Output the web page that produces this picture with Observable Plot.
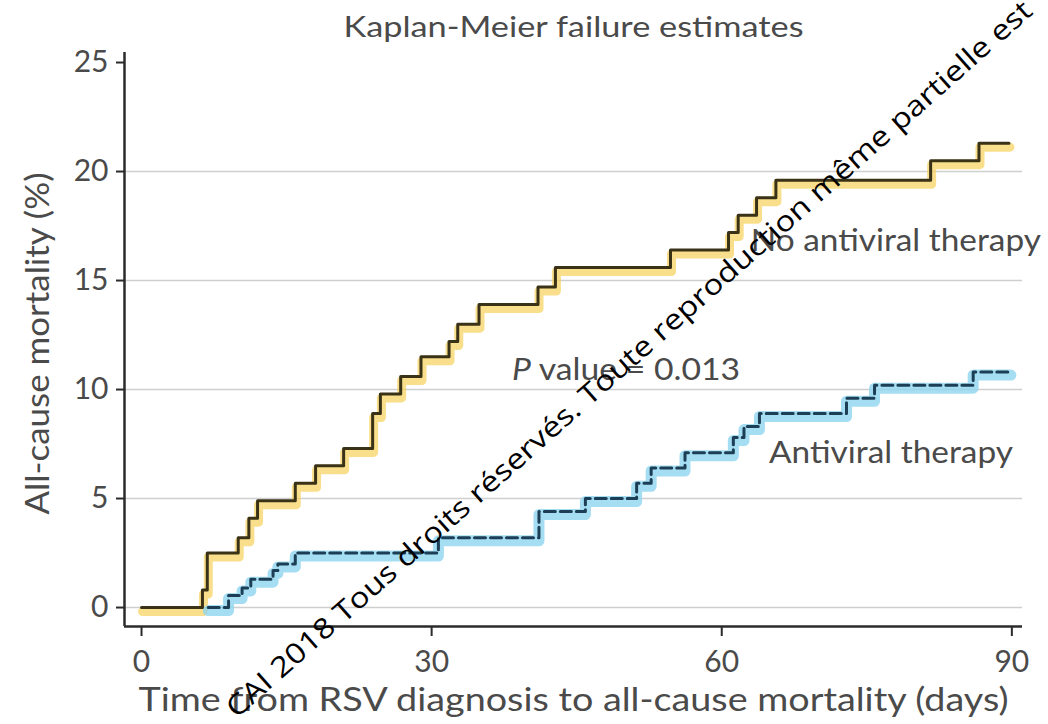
<!DOCTYPE html>
<html><head><meta charset="utf-8">
<script src="https://cdn.jsdelivr.net/npm/d3@7"></script>
<script src="https://cdn.jsdelivr.net/npm/@observablehq/plot@0.6"></script>
<style>body{margin:0;background:#fff;}</style>
</head><body><div id="chart"></div>
<script>
// Kaplan-Meier step curves (day, cumulative mortality %)
const noAntiviralDay = [0, 6.3, 6.8, 10.0, 11.1, 12.0, 15.9, 18.0, 20.9, 23.9, 24.7, 26.8, 28.9, 31.8, 32.7, 34.9, 41.0, 42.8, 54.7, 60.7, 61.7, 63.6, 65.6, 81.6, 86.6, 89.7];
const noAntiviralPct = [0, 0.8, 2.5, 3.2, 4.1, 4.9, 5.7, 6.5, 7.3, 8.9, 9.8, 10.6, 11.5, 12.2, 13.0, 13.9, 14.7, 15.6, 16.4, 17.2, 18.0, 18.8, 19.6, 20.5, 21.3, 21.3];
const antiviralDay = [6.9, 9.0, 10.4, 11.3, 13.6, 14.1, 15.9, 30.7, 41.1, 45.9, 51.2, 52.7, 56.2, 61.2, 62.3, 63.9, 72.9, 75.8, 86.0, 89.9];
const antiviralPct = [0, 0.55, 0.9, 1.3, 1.7, 2.0, 2.5, 3.2, 4.4, 5.0, 5.7, 6.4, 7.1, 7.8, 8.3, 8.9, 9.6, 10.2, 10.8, 10.8];
const yTicks = [0, 5, 10, 15, 20, 25];
const xTicks = [0, 30, 60, 90];
const gridValues = [0, 5, 10, 15, 20];
const titleText = "Kaplan-Meier failure estimates";
const xLabel = "Time from RSV diagnosis to all-cause mortality (days)";
const yLabel = "All-cause mortality (%)";
const groupLabels = ["No antiviral therapy", "Antiviral therapy"];
const pValueText = "P value = 0.013";
const watermark = "CAI 2018 Tous droits réservés. Toute reproduction même partielle est";

const noAV = noAntiviralDay.map((d, i) => ({day: d, pct: noAntiviralPct[i]}));
const av = antiviralDay.map((d, i) => ({day: d, pct: antiviralPct[i]}));

const FONT = "Lato, 'Open Sans', sans-serif";
const GRAY = "#4a4a4a";
const X0 = -1.76, X1 = 91.1, Y0 = -0.87, Y1 = 25.46;

const svg = Plot.plot({
  width: 1048, height: 724,
  marginLeft: 124, marginRight: 26, marginTop: 52, marginBottom: 98,
  style: {fontFamily: FONT, color: GRAY, background: "#fff", overflow: "visible"},
  x: {domain: [X0, X1]},
  y: {domain: [Y0, Y1]},
  marks: [
    Plot.ruleY(gridValues, {stroke: "#cfcfcf", strokeWidth: 1.5}),
    // highlight bands
    Plot.line(noAV, {x: "day", y: "pct", curve: "step-after", stroke: "#f6d25a", strokeOpacity: 0.7, strokeWidth: 9, dy: 4, dx: 1}),
    Plot.line(av, {x: "day", y: "pct", curve: "step-after", stroke: "#8fd4f0", strokeOpacity: 0.8, strokeWidth: 11, dy: 3}),
    // KM lines
    Plot.line(noAV, {x: "day", y: "pct", curve: "step-after", stroke: "#3a3216", strokeWidth: 3}),
    Plot.line(av, {x: "day", y: "pct", curve: "step-after", stroke: "#1d3f56", strokeWidth: 3, strokeDasharray: "11,5"}),
    // axes
    Plot.ruleX([X0], {stroke: "#2b2b2b", strokeWidth: 2.5}),
    Plot.ruleY([Y0], {stroke: "#2b2b2b", strokeWidth: 2.5}),
    Plot.axisY(yTicks, {tickSize: 8, tickPadding: 8, fontSize: 30, stroke: "#2b2b2b", strokeWidth: 2, label: null, fill: GRAY}),
    Plot.axisX(xTicks, {tickSize: 10, tickPadding: 14, fontSize: 30, stroke: "#2b2b2b", strokeWidth: 2, label: null, fill: GRAY}),
    // titles
    Plot.text([titleText], {frameAnchor: "top", dy: -35, fontSize: 28, fill: GRAY}),
    Plot.text([xLabel], {frameAnchor: "bottom", dy: 84, fontSize: 33, fill: GRAY}),
    Plot.text([yLabel], {frameAnchor: "left", textAnchor: "middle", rotate: -90, dx: -86, dy: 4, fontSize: 33, fill: GRAY}),
    // annotations
    Plot.text([groupLabels[0]], {x: 78.0, y: 16.8, fontSize: 31, fill: GRAY}),
    Plot.text([pValueText], {x: 50.1, y: 10.9, fontSize: 31, fill: GRAY}),
    Plot.text([groupLabels[1]], {x: 77.5, y: 7.1, fontSize: 31, fill: GRAY}),
    // watermark
    Plot.text([watermark], {x: 9.2, y: -4.8, rotate: -41.5, textAnchor: "start", fontSize: 28, fill: "#000", fontFamily: "'Open Sans', sans-serif"})
  ]
});

const fits = {};
fits[titleText] = 460;
fits[xLabel] = 870;
fits[yLabel] = 342;
fits[groupLabels[0]] = 290;
fits[groupLabels[1]] = 244;
fits[pValueText] = 228;
fits[watermark] = 1065;
d3.select(svg).selectAll("text").each(function() {
  const t = this.textContent;
  if (fits[t]) {
    d3.select(this).attr("textLength", fits[t]).attr("lengthAdjust", "spacingAndGlyphs");
  }
  if (t === pValueText) {
    const el = d3.select(this);
    el.text(null);
    el.append("tspan").attr("font-style", "italic").text("P");
    el.append("tspan").text(" value = 0.013");
  }
});
document.getElementById("chart").appendChild(svg);
</script>
</body></html>
